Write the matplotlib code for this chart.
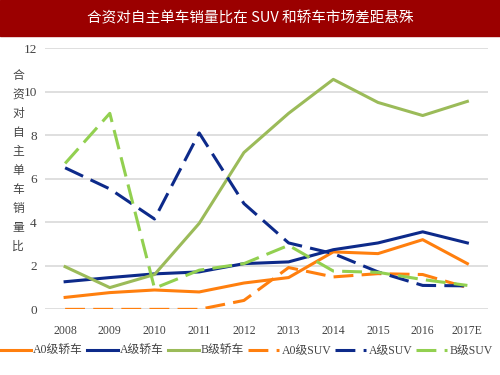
import matplotlib.pyplot as plt
from matplotlib.patches import Rectangle

plt.rcParams['font.family'] = ['Liberation Serif', 'Noto Sans CJK SC']

years = ['2008', '2009', '2010', '2011', '2012', '2013', '2014', '2015', '2016', '2017E']

# 轿车
a0_sedan = [0.55, 0.77, 0.89, 0.8, 1.21, 1.46, 2.64, 2.56, 3.2, 2.1]
a_sedan = [1.27, 1.46, 1.63, 1.72, 2.1, 2.18, 2.74, 3.05, 3.56, 3.05]
b_sedan = [1.96, 1.0, 1.6, 3.95, 7.2, 9.0, 10.56, 9.5, 8.9, 9.55]
# SUV
a0_suv = [0.0, 0.0, 0.0, 0.0, 0.41, 1.92, 1.49, 1.64, 1.6, 1.0]
a_suv = [6.5, 5.53, 4.15, 8.1, 4.86, 3.05, 2.56, 1.72, 1.1, 1.08]
b_suv = [6.7, 9.0, 0.97, 1.8, 2.1, 2.94, 1.76, 1.7, 1.37, 1.1]

orange = '#FF7F0E'
blue = '#0D2A8A'
olive = '#9BBB59'
lime = '#92D050'

fig = plt.figure(figsize=(5, 3.75), dpi=100)
fig.patches.append(Rectangle((0, 0.903), 1, 0.097, transform=fig.transFigure,
                             color='#9B0000', zorder=0))
fig.text(0.5, 0.952, '合资对自主单车销量比在 SUV 和轿车市场差距悬殊', color='white',
         ha='center', va='center', fontsize=10.5,
         family=['Noto Sans CJK SC', 'DejaVu Sans'])

ax = fig.add_axes([0.09, 0.175, 0.885, 0.697])
x = range(len(years))
dash = (0, (6.5, 2.7))
ax.plot(x, a0_sedan, color=orange, lw=2.2, label='A0级轿车')
ax.plot(x, a_sedan, color=blue, lw=2.2, label='A级轿车')
ax.plot(x, b_sedan, color=olive, lw=2.2, label='B级轿车')
ax.plot(x, a0_suv, color=orange, lw=2.2, ls=dash, label='A0级SUV')
ax.plot(x, a_suv, color=blue, lw=2.2, ls=dash, label='A级SUV')
ax.plot(x, b_suv, color=lime, lw=2.2, ls=dash, label='B级SUV')

ax.set_ylim(0, 12)
ax.set_yticks(range(0, 13, 2))
ax.set_xlim(-0.45, 9.45)
ax.set_xticks(list(x))
ax.set_xticklabels(years)
ax.tick_params(axis='x', length=0, labelsize=8.5, colors='#444444', pad=11)
ax.tick_params(axis='y', length=0, labelsize=9.5, colors='#444444', pad=6)
ax.grid(axis='y', color='#D9D9D9', lw=1.2)
ax.set_axisbelow(True)
for s in ax.spines.values():
    s.set_visible(False)

fig.text(0.036, 0.57, '\n'.join('合资对自主单车销量比'), ha='center', va='center',
         fontsize=8.5, linespacing=1.6, color='#444444',
         family=['Noto Sans CJK SC', 'DejaVu Sans'])

leg = ax.legend(loc='upper center', bbox_to_anchor=(0.455, -0.095), ncol=6, frameon=False,
                handlelength=2.6, handletextpad=0.2, columnspacing=0.35,
                prop={'family': ['Liberation Serif', 'Noto Sans CJK SC'], 'size': 8.5})
for t in leg.get_texts():
    t.set_color('#444444')

fig.savefig('out.png', dpi=100)
